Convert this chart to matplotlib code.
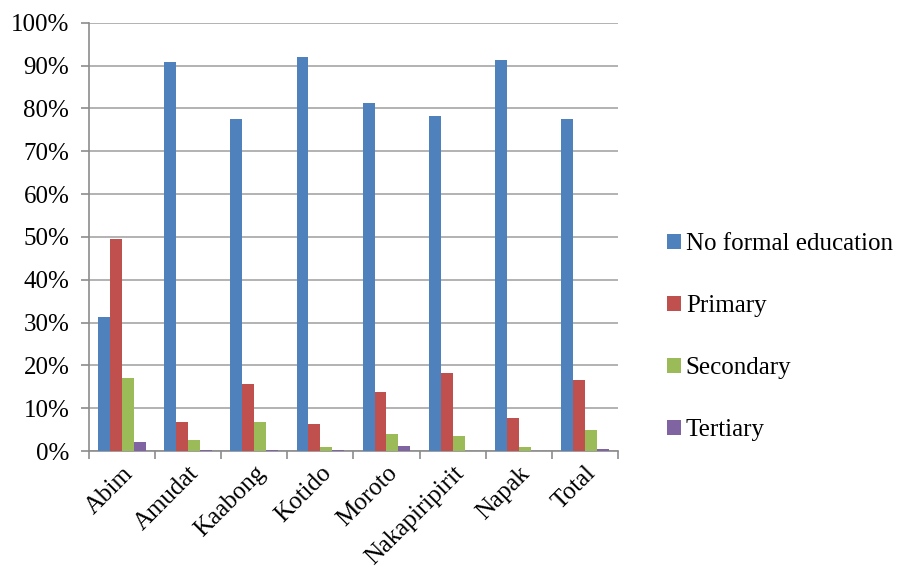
import numpy as np
import matplotlib.pyplot as plt
from matplotlib.ticker import PercentFormatter

plt.rcParams['font.family'] = ['Liberation Serif', 'DejaVu Serif']

districts = ['Abim', 'Amudat', 'Kaabong', 'Kotido', 'Moroto',
             'Nakapiripirit', 'Napak', 'Total']
no_formal = [31.3, 90.9, 77.6, 92.0, 81.3, 78.3, 91.3, 77.5]
primary = [49.5, 6.7, 15.6, 6.3, 13.8, 18.2, 7.7, 16.6]
secondary = [17.0, 2.5, 6.7, 1.0, 4.1, 3.6, 1.0, 5.0]
tertiary = [2.2, 0.3, 0.2, 0.3, 1.1, 0.0, 0.0, 0.4]

series = [('No formal education', no_formal, '#4f81bd'),
          ('Primary', primary, '#c0504d'),
          ('Secondary', secondary, '#9bbb59'),
          ('Tertiary', tertiary, '#8064a2')]

fig = plt.figure(figsize=(8.97, 5.71), dpi=100)
ax = fig.add_axes([0.099, 0.210, 0.590, 0.750])

x = np.arange(len(districts))
w = 0.18
for i, (name, vals, col) in enumerate(series):
    ax.bar(x + (i - 1.5) * w, vals, w, color=col, label=name, zorder=3)

ax.set_ylim(0, 100)
ax.set_xlim(-0.5, len(districts) - 0.5)
ax.set_yticks(np.arange(0, 101, 10))
ax.yaxis.set_major_formatter(PercentFormatter(decimals=0))
ax.grid(axis='y', color='#a6a6a6', linewidth=1.2, zorder=0)

# category ticks sit between groups, labels centred under each group
ax.set_xticks(np.arange(-0.5, len(districts)), minor=False)
ax.set_xticklabels([])
ax.set_xticks(x, minor=True)
ax.set_xticklabels(districts, minor=True, rotation=45, ha='right',
                   rotation_mode='anchor', fontsize=18)
ax.tick_params(axis='x', which='minor', length=0, pad=8)
ax.tick_params(axis='x', which='major', length=6, color='#8c8c8c', width=1.2)
ax.tick_params(axis='y', length=6, color='#8c8c8c', width=1.2, labelsize=18, pad=8)

for s in ['top', 'right']:
    ax.spines[s].set_visible(False)
for s in ['left', 'bottom']:
    ax.spines[s].set_color('#8c8c8c')
    ax.spines[s].set_linewidth(1.2)

ax.legend(loc='center left', bbox_to_anchor=(1.05, 0.266), frameon=False,
          fontsize=18, handlelength=0.55, handleheight=0.55, handletextpad=0.2,
          labelspacing=1.6)

fig.savefig('out.png', dpi=100)
